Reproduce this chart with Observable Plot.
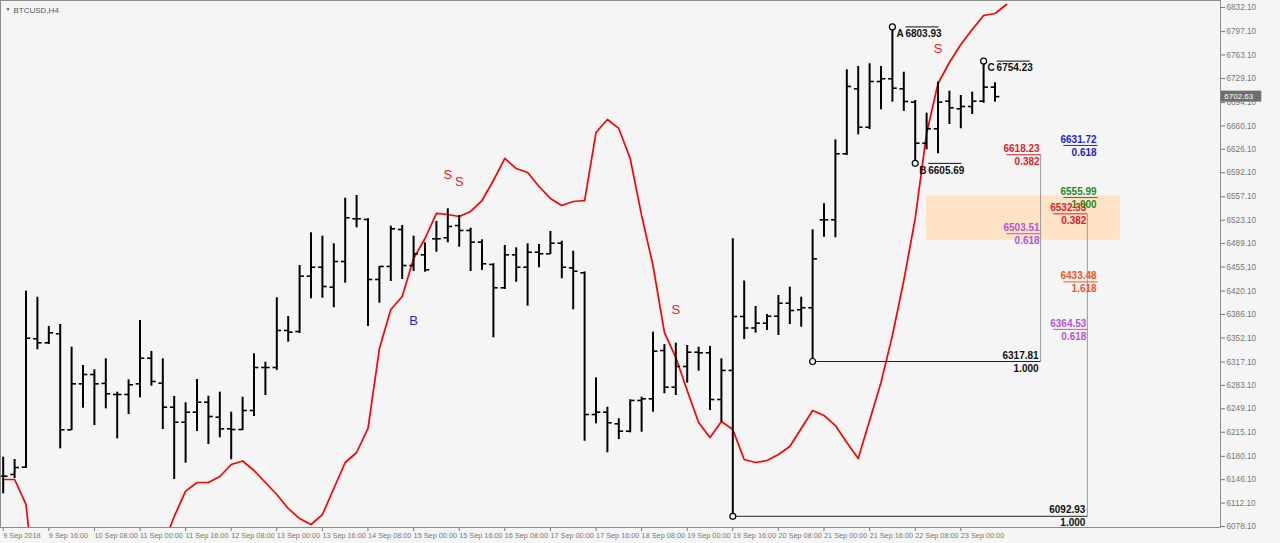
<!DOCTYPE html>
<html><head><meta charset="utf-8">
<script src="https://cdn.jsdelivr.net/npm/d3@7"></script>
<script src="https://cdn.jsdelivr.net/npm/@observablehq/plot@0.6"></script>
<style>
html,body{margin:0;padding:0;background:#f5f5f5;overflow:hidden;}
#chart svg{display:block;}
</style></head><body><div id="chart"></div>
<script>
// ---- DATA (BTCUSD, H4 bars; bar 0 = 9 Sep 2018 00:00) ----
const opens = [6151.2,6153.7,6164.3,6350.8,6345.0,6358.1,6218.6,6285.4,6298.9,6286.0,
 6269.9,6269.9,6285.4,6322.6,6286.3,6251.4,6229.6,6244.2,6258.7,6236.9,
 6220.0,6219.0,6246.6,6309.1,6309.1,6362.9,6361.4,6441.8,6454.8,6425.8,
 6463.1,6525.2,6524.2,6437.0,6455.9,6509.6,6457.3,6472.8,6496.1,6497.6,
 6515.4,6508.2,6491.2,6458.8,6424.9,6472.8,6454.8,6476.6,6474.3,6489.7,
 6453.9,6446.7,6240.8,6244.2,6227.3,6216.6,6261.2,6263.6,6333.8,6280.5,
 6310.6,6331.3,6330.5,6262.6,6304.8,6383.2,6366.5,6373.5,6383.6,6402.5,
 6393.0,6395.9,6523.7,6523.7,6619.6,6714.0,6658.2,6724.6,6728.6,6714.0,
 6694.6,6635.0,6655.9,6696.0,6685.0,6688.3,6696.0,6716.4];
const highs = [6178.8,6175.4,6420.0,6411.2,6368.7,6371.6,6338.6,6312.0,6305.8,6321.7,
 6273.2,6291.2,6377.4,6332.4,6321.7,6267.0,6257.8,6291.7,6267.4,6273.2,
 6244.2,6266.0,6329.0,6316.8,6410.4,6383.2,6457.3,6504.8,6499.9,6488.8,
 6555.1,6559.0,6525.2,6455.9,6514.4,6515.4,6499.9,6490.3,6521.2,6539.7,
 6530.0,6511.5,6494.6,6459.8,6486.4,6483.0,6488.8,6487.8,6506.7,6492.6,
 6478.1,6448.0,6294.1,6251.4,6234.6,6262.2,6266.0,6360.4,6342.5,6344.4,
 6341.1,6338.6,6339.6,6321.7,6496.1,6434.8,6397.7,6386.1,6413.7,6425.8,
 6411.2,6509.2,6547.0,6639.9,6741.6,6746.4,6750.4,6746.4,6803.93,6738.1,
 6697.0,6678.6,6723.6,6710.5,6704.3,6709.1,6754.23,6722.8];
const lows = [6125.6,6147.8,6162.4,6334.8,6342.5,6191.0,6217.6,6250.0,6224.8,6249.1,
 6205.5,6240.8,6265.1,6281.9,6219.0,6146.4,6170.1,6216.1,6197.2,6207.0,
 6175.0,6217.6,6237.9,6268.4,6304.8,6345.9,6358.5,6408.9,6409.8,6395.9,
 6431.6,6512.1,6368.7,6402.5,6434.1,6437.0,6448.6,6447.6,6476.6,6490.3,
 6483.9,6448.6,6450.0,6352.3,6422.4,6433.0,6398.2,6454.0,6473.3,6438.0,
 6392.9,6202.0,6227.3,6185.2,6204.5,6214.2,6215.1,6244.2,6270.9,6268.4,
 6286.3,6303.7,6246.6,6229.6,6092.93,6349.8,6358.9,6362.9,6355.6,6371.6,
 6367.7,6317.81,6498.4,6497.6,6617.1,6647.2,6654.9,6683.5,6694.6,6681.1,
 6605.69,6625.4,6619.6,6662.2,6655.9,6676.7,6693.1,6694.6];
const closes = [6151.2,6163.8,6351.7,6345.0,6359.5,6218.6,6285.4,6298.9,6285.4,6270.9,
 6269.9,6284.0,6322.6,6288.8,6251.4,6229.6,6244.2,6258.7,6237.9,6220.0,
 6219.0,6246.6,6309.1,6309.1,6362.9,6360.4,6441.8,6454.8,6426.8,6463.1,
 6526.6,6525.2,6437.0,6455.9,6510.6,6457.3,6474.3,6451.1,6496.1,6514.0,
 6508.2,6491.2,6459.8,6424.9,6472.8,6454.8,6476.6,6474.3,6489.7,6454.8,
 6449.0,6240.8,6244.2,6228.8,6216.6,6261.2,6263.6,6332.8,6280.5,6310.6,
 6331.3,6330.5,6262.6,6304.8,6383.2,6366.5,6373.5,6383.6,6402.5,6391.9,
 6395.9,6467.0,6523.7,6619.6,6717.4,6658.2,6724.6,6728.6,6714.9,6695.6,
 6635.0,6655.9,6694.6,6686.4,6688.3,6696.0,6716.4,6702.63];
// red indicator line (one value per bar, plus one bar ahead)
const redLine = [6146.4,6146.4,6110.1,5957.0,5935.0,5925.0,5920.0,5918.0,5920.0,5930.0,
 5950.0,5975.0,6000.0,6025.0,6050.0,6092.6,6129.4,6142.0,6142.0,6150.7,
 6168.2,6173.3,6159.5,6142.0,6124.6,6104.3,6089.7,6081.0,6095.5,6133.3,
 6171.1,6185.6,6220.5,6336.7,6393.4,6412.3,6467.5,6496.5,6532.9,6531.4,
 6528.5,6535.8,6551.7,6580.8,6612.8,6598.2,6592.4,6572.1,6554.7,6544.5,
 6550.3,6551.7,6650.5,6669.4,6656.4,6612.8,6530.0,6457.3,6360.0,6323.6,
 6275.7,6229.2,6207.4,6230.7,6219.0,6175.4,6171.1,6174.0,6182.7,6194.3,
 6220.5,6246.6,6239.4,6224.8,6200.1,6176.9,6232.1,6287.3,6355.6,6435.5,
 6525.6,6649.1,6721.7,6752.2,6778.4,6800.2,6820.5,6823.4,6836.5];
const timeLabels = ["9 Sep 2018","9 Sep 16:00","10 Sep 08:00","11 Sep 00:00","11 Sep 16:00","12 Sep 08:00",
 "13 Sep 00:00","13 Sep 16:00","14 Sep 08:00","15 Sep 00:00","15 Sep 16:00","16 Sep 08:00","17 Sep 00:00",
 "17 Sep 16:00","18 Sep 08:00","19 Sep 00:00","19 Sep 16:00","20 Sep 08:00","21 Sep 00:00","21 Sep 16:00",
 "22 Sep 08:00","23 Sep 00:00"];
const priceTicks = [6078.10,6112.10,6146.10,6180.10,6215.10,6249.10,6283.10,6317.10,6352.10,6386.10,6420.10,
 6455.10,6489.10,6523.10,6557.10,6592.10,6626.10,6660.10,6694.10,6729.10,6763.10,6797.10,6832.10];
// swing pivots
const pivotNames = ["A","B","C"];
const pivotBars = [78, 80, 86];
const pivotPrices = [6803.93, 6605.69, 6754.23];
// signals
const signalText = ["B","S","S","S","S"];
const signalBars = [36, 39, 40, 59, 82];
const signalPrices = [6377.4, 6589.5, 6579.4, 6393.4, 6772.6];
// fibonacci projections
const swingStartBars = [71, 64];
const swingStartPrices = [6317.81, 6092.93];
const swingTargets = [6618.23, 6532.33];
const fibLevels = [6618.23, 6532.33, 6631.72, 6555.99, 6503.51, 6433.48, 6364.53];
const fibRatios = ["0.382","0.382","0.618","1.000","0.618","1.618","0.618"];
const zoneTop = 6558.5, zoneBottom = 6494.0;
const lastPrice = 6702.63;

// ---- layout / styling ----
const fibColors = ["#e3202a","#e3202a","#2222d6","#1b8c1b","#b455d2","#f4561e","#b455d2"];
const swingEnd = [91, 95.1];          // bar position of vertical fib rules
const fibAnchor = [91, 95.1, 96.0, 96.0, 91, 96.0, 95.1];
const ulen = 3.0;                      // underline length (bars)

const bars = opens.map((o, i) => ({i, o, h: highs[i], l: lows[i], c: closes[i]}));
const line = redLine.map((v, i) => ({i, v}));
const pivots = pivotNames.map((n, k) => ({n, bar: pivotBars[k], p: pivotPrices[k]}));
const signals = signalText.map((t, k) => ({t, bar: signalBars[k], p: signalPrices[k]}));
const swings = swingStartBars.map((b, k) => ({b, p: swingStartPrices[k], end: swingEnd[k], t: swingTargets[k]}));
const fibs = fibLevels.map((p, k) => ({p, r: fibRatios[k], col: fibColors[k], x: fibAnchor[k]}));
const fmt = d => d.toFixed(2);
const axisFont = "Liberation Sans, Arial, sans-serif";
const labFont = "Liberation Sans, Arial, sans-serif";

const chart = Plot.plot({
  width: 1280, height: 543,
  marginTop: 0, marginLeft: 0, marginRight: 60, marginBottom: 16,
  x: {domain: [-0.237, 106.78]},
  y: {domain: [6076.65, 6842.3]},
  style: {background: "#f5f5f5", fontFamily: axisFont, overflow: "visible"},
  marks: [
    Plot.rect([0], {x1: () => 81, x2: () => 98, y1: () => zoneBottom, y2: () => zoneTop, fill: "#ffe3c6"}),
    Plot.line(line, {x: "i", y: "v", stroke: "#ff0000", strokeWidth: 1.7, clip: true}),
    Plot.ruleX(bars, {x: "i", y1: "l", y2: "h", stroke: "#000", strokeWidth: 2}),
    Plot.link(bars, {x1: d => d.i - 0.38, x2: "i", y1: "o", y2: "o", stroke: "#000", strokeWidth: 1.6}),
    Plot.link(bars, {x1: "i", x2: d => d.i + 0.38, y1: "c", y2: "c", stroke: "#000", strokeWidth: 1.6}),
    // swing rules
    Plot.link(swings, {x1: "b", x2: "end", y1: "p", y2: "p", stroke: "#222", strokeWidth: 1}),
    Plot.link(swings, {x1: "end", x2: "end", y1: "p", y2: "t", stroke: "#9a9a9a", strokeWidth: 1}),
    Plot.text(swings, {x: "end", y: "p", text: d => fmt(d.p), textAnchor: "end", dx: -2, dy: -6, fontWeight: "bold", fontSize: 10, fontFamily: labFont, fill: "#111"}),
    Plot.text(swings, {x: "end", y: "p", text: () => "1.000", textAnchor: "end", dx: -2, dy: 7, fontWeight: "bold", fontSize: 10, fontFamily: labFont, fill: "#111"}),
    // fib labels
    Plot.link(fibs, {x1: d => d.x - ulen, x2: "x", y1: "p", y2: "p", stroke: "col", strokeWidth: 1}),
    Plot.text(fibs, {x: "x", y: "p", text: d => fmt(d.p), textAnchor: "end", dx: -1, dy: -6, fontWeight: "bold", fontSize: 10, fontFamily: labFont, fill: "col"}),
    Plot.text(fibs, {x: "x", y: "p", text: "r", textAnchor: "end", dx: -1, dy: 7, fontWeight: "bold", fontSize: 10, fontFamily: labFont, fill: "col"}),
    // pivots
    Plot.dot(pivots, {x: "bar", y: "p", r: 3, stroke: "#000", fill: "#f5f5f5", strokeWidth: 1.2}),
    Plot.dot(swings, {x: "b", y: "p", r: 3, stroke: "#000", fill: "#f5f5f5", strokeWidth: 1.2}),
    Plot.text(pivots, {x: "bar", y: "p", text: "n", textAnchor: "start", dx: 4, dy: 7, fontWeight: "bold", fontSize: 10, fontFamily: labFont, fill: "#111"}),
    Plot.text(pivots, {x: "bar", y: "p", text: d => fmt(d.p), textAnchor: "start", dx: 13, dy: 7, fontWeight: "bold", fontSize: 10, fontFamily: labFont, fill: "#111"}),
    Plot.link(pivots, {x1: d => d.bar + 1.15, x2: d => d.bar + 4.05, y1: "p", y2: "p", stroke: "#111", strokeWidth: 1}),
    // signals
    Plot.text(signals, {x: "bar", y: "p", text: "t", fontSize: 13, fontFamily: labFont, fill: d => d.t === "B" ? "#2626d9" : "#ee1c24"}),
    // axes
    Plot.axisY(priceTicks, {anchor: "right", tickSize: 4, tickPadding: 2, tickFormat: fmt, fontSize: 8.2, color: "#777", label: null}),
    Plot.axisX(d3.range(0, 85, 4), {anchor: "bottom", tickSize: 4, tickPadding: 1, tickFormat: d => timeLabels[d / 4], textAnchor: "start", fontSize: 7.3, color: "#777", label: null}),
    Plot.frame({stroke: "#8c8c8c"}),
    // current price tag
    Plot.rect([lastPrice], {x1: () => 106.85, x2: () => 110.4, y1: d => d - 8, y2: d => d + 8, fill: "#6e6e6e"}),
    Plot.text([lastPrice], {x: () => 106.85, y: d => d, text: fmt, textAnchor: "start", dx: 3, fontSize: 8, fill: "#fff"}),
    // symbol caption
    Plot.text(["BTCUSD,H4"], {frameAnchor: "top-left", dx: 13, dy: 7, fontSize: 8, fill: "#555"}),
    Plot.text(["▼"], {frameAnchor: "top-left", dx: 5, dy: 7, fontSize: 5, fill: "#555"})
  ]
});
document.getElementById("chart").appendChild(chart);
</script></body></html>
